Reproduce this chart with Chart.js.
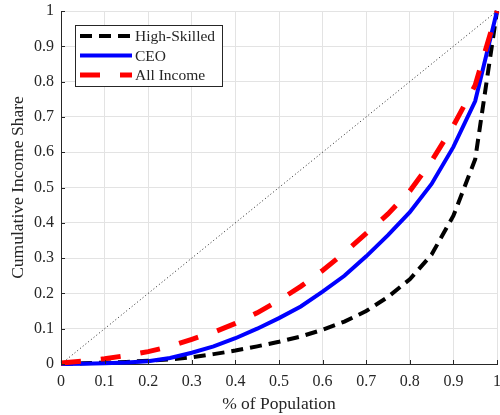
<!DOCTYPE html>
<html>
<head>
<meta charset="utf-8">
<script src="https://cdn.jsdelivr.net/npm/chart.js@4/dist/chart.umd.min.js"></script>
<style>
  html, body { margin: 0; padding: 0; background: #fff; }
  canvas { display: block; }
</style>
</head>
<body>
<canvas id="chart" width="500" height="415"></canvas>
<script>
// population share (x) and cumulative income share per series
const popShare = [0, 0.05, 0.1, 0.15, 0.2, 0.25, 0.3, 0.35, 0.4, 0.45, 0.5,
  0.55, 0.6, 0.65, 0.7, 0.75, 0.8, 0.85, 0.9, 0.95, 1];
const highSkilled = [0, 0.002, 0.004, 0.006, 0.009, 0.013, 0.019, 0.028, 0.038, 0.05, 0.063,
  0.078, 0.097, 0.12, 0.15, 0.19, 0.24, 0.31, 0.42, 0.58, 1];
const ceo = [0, 0.001, 0.002, 0.004, 0.008, 0.017, 0.032, 0.05, 0.073, 0.1, 0.13,
  0.163, 0.205, 0.25, 0.305, 0.365, 0.43, 0.51, 0.615, 0.745, 1];
const allIncome = [0.003, 0.008, 0.015, 0.024, 0.035, 0.05, 0.07, 0.09, 0.115, 0.145, 0.18,
  0.22, 0.265, 0.315, 0.37, 0.425, 0.49, 0.575, 0.675, 0.79, 1];
const equality = [0, 1];
const xTicks = ["0", "0.1", "0.2", "0.3", "0.4", "0.5", "0.6", "0.7", "0.8", "0.9", "1"];
const yTicks = ["0", "0.1", "0.2", "0.3", "0.4", "0.5", "0.6", "0.7", "0.8", "0.9", "1"];

const serif = "'Liberation Serif', 'Times New Roman', serif";
const ink = "#262626";

function toPoints(xs, ys) {
  return xs.map((x, i) => ({ x: x, y: ys[i] }));
}

// MATLAB-style boxed legend in the top left corner
const boxLegend = {
  id: "boxLegend",
  afterDraw(chart) {
    const ctx = chart.ctx;
    const items = chart.data.datasets.filter((d) => d.showInBox);
    const x0 = 75, y0 = 25, w = 147, h = 61;
    ctx.save();
    ctx.fillStyle = "#fff";
    ctx.fillRect(x0, y0, w, h);
    ctx.strokeStyle = ink;
    ctx.lineWidth = 1;
    ctx.strokeRect(x0 + 0.5, y0 + 0.5, w, h);
    items.forEach((d, i) => {
      const y = 36 + i * 19.5;
      ctx.beginPath();
      ctx.strokeStyle = d.borderColor;
      ctx.lineWidth = d.borderWidth;
      ctx.setLineDash(d.borderDash || []);
      ctx.moveTo(80, y);
      ctx.lineTo(132, y);
      ctx.stroke();
      ctx.setLineDash([]);
      ctx.fillStyle = ink;
      ctx.font = "15.5px " + serif;
      ctx.textBaseline = "middle";
      ctx.textAlign = "left";
      ctx.fillText(d.label, 135, y + 1);
    });
    ctx.restore();
  },
};

// inward tick marks like MATLAB
const innerTicks = {
  id: "innerTicks",
  afterDatasetsDraw(chart) {
    const ctx = chart.ctx;
    const a = chart.chartArea;
    const xs = chart.scales.x, ys = chart.scales.y;
    ctx.save();
    ctx.strokeStyle = ink;
    ctx.lineWidth = 1;
    ctx.beginPath();
    xs.ticks.forEach((t) => {
      const px = Math.round(xs.getPixelForValue(t.value)) + 0.5;
      ctx.moveTo(px, a.bottom);
      ctx.lineTo(px, a.bottom - 4);
    });
    ys.ticks.forEach((t) => {
      const py = Math.round(ys.getPixelForValue(t.value)) + 0.5;
      ctx.moveTo(a.left, py);
      ctx.lineTo(a.left + 4, py);
    });
    ctx.stroke();
    ctx.restore();
  },
};

new Chart(document.getElementById("chart").getContext("2d"), {
  type: "line",
  data: {
    datasets: [
      {
        label: "High-Skilled",
        data: toPoints(popShare, highSkilled),
        borderColor: "#000000",
        borderWidth: 4,
        borderDash: [12, 7],
        order: 3,
        showInBox: true,
      },
      {
        label: "CEO",
        data: toPoints(popShare, ceo),
        borderColor: "#0000ff",
        borderWidth: 4,
        order: 2,
        showInBox: true,
      },
      {
        label: "All Income",
        data: toPoints(popShare, allIncome),
        borderColor: "#ff0000",
        borderWidth: 5,
        borderDash: [20, 20],
        order: 1,
        showInBox: true,
      },
      {
        label: "Equality",
        data: toPoints(equality, equality),
        borderColor: "#222222",
        borderWidth: 1,
        borderDash: [1, 2.5],
        order: 4,
        showInBox: false,
      },
    ],
  },
  options: {
    responsive: false,
    animation: false,
    devicePixelRatio: 1,
    layout: { autoPadding: false, padding: { left: 0, right: 3, top: 11, bottom: 0 } },
    elements: {
      point: { radius: 0 },
      line: { tension: 0, fill: false, borderCapStyle: "butt" },
    },
    datasets: { line: { clip: 6 } },
    plugins: { legend: { display: false }, tooltip: { enabled: false } },
    scales: {
      x: {
        type: "linear",
        min: 0,
        max: 1,
        afterFit: (s) => {
          s.height = 51;
          s.paddingLeft = 0;
          s.paddingRight = 0;
        },
        afterBuildTicks: (s) => {
          s.ticks = xTicks.map((t) => ({ value: parseFloat(t) }));
        },
        ticks: {
          callback: (v, i) => xTicks[i],
          color: ink,
          font: { family: serif, size: 16 },
          padding: 8,
          maxRotation: 0,
          autoSkip: false,
        },
        grid: { color: "#e3e3e3", drawTicks: false },
        border: { color: ink, width: 1 },
        title: {
          display: true,
          text: "% of Population",
          color: ink,
          font: { family: serif, size: 17.5 },
          padding: { top: 0, bottom: 0 },
        },
      },
      y: {
        type: "linear",
        min: 0,
        max: 1,
        afterFit: (s) => {
          s.width = 61;
          s.paddingTop = 0;
          s.paddingBottom = 0;
        },
        afterBuildTicks: (s) => {
          s.ticks = yTicks.map((t) => ({ value: parseFloat(t) }));
        },
        ticks: {
          callback: (v, i) => yTicks[i],
          color: ink,
          font: { family: serif, size: 16 },
          padding: 7,
          autoSkip: false,
        },
        grid: { color: "#e3e3e3", drawTicks: false },
        border: { color: ink, width: 1 },
        title: {
          display: true,
          text: "Cumulative Income Share",
          color: ink,
          font: { family: serif, size: 17.5 },
          padding: { top: 8, bottom: 0 },
        },
      },
    },
  },
  plugins: [innerTicks, boxLegend],
});
</script>
</body>
</html>
